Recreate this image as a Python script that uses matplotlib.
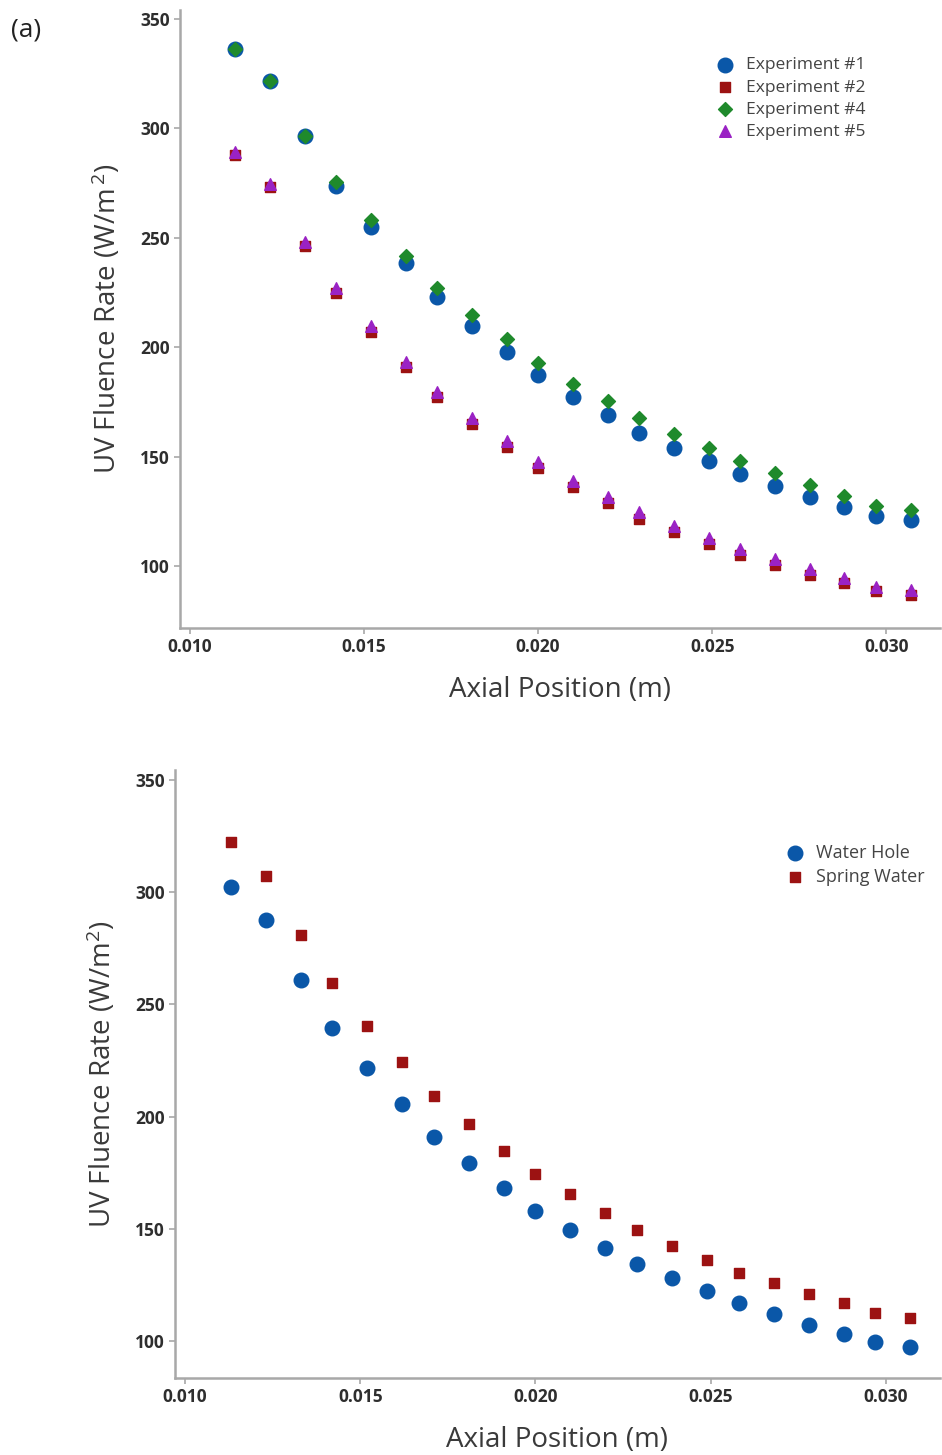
import matplotlib
matplotlib.use("Agg")
import matplotlib.pyplot as plt

plt.rcParams['font.family'] = ['Open Sans', 'DejaVu Sans']
plt.rcParams['mathtext.fontset'] = 'custom'
plt.rcParams['mathtext.rm'] = 'Open Sans'
plt.rcParams['mathtext.it'] = 'Open Sans'

# axial positions (m), shared by both panels
axialPos = [0.0113, 0.0123, 0.0133, 0.0142, 0.0152, 0.0162, 0.0171, 0.0181, 0.0191, 0.0200,
            0.0210, 0.0220, 0.0229, 0.0239, 0.0249, 0.0258, 0.0268, 0.0278, 0.0288, 0.0297, 0.0307]

# panel (a) fluence rates (W/m^2)
exp1 = [336.3, 321.7, 296.5, 273.7, 254.9, 238.5, 222.9, 209.7, 197.8, 187.3,
        177.2, 169.0, 160.8, 153.9, 148.0, 142.0, 136.6, 131.5, 127.0, 122.9, 121.0]
exp2 = [287.8, 273.2, 246.3, 224.8, 206.9, 190.9, 177.2, 164.9, 154.4, 144.8,
        136.1, 128.8, 121.5, 115.5, 110.0, 105.0, 100.5, 95.9, 92.2, 88.6, 86.8]
exp4 = [336.3, 321.7, 296.5, 275.5, 258.1, 241.7, 227.1, 214.7, 203.8, 192.8,
        183.2, 175.5, 167.7, 160.4, 154.0, 148.0, 142.6, 137.1, 132.1, 127.5, 125.6]
exp5 = [289.0, 274.5, 248.0, 227.0, 209.5, 193.0, 179.5, 167.5, 157.0, 147.5,
        139.0, 131.5, 124.5, 118.5, 113.0, 108.0, 103.0, 98.5, 94.5, 90.5, 89.0]

# lower panel fluence rates (W/m^2)
waterHole = [302.3, 287.6, 260.9, 239.5, 221.7, 205.7, 190.9, 179.4, 168.3, 158.0,
             149.6, 141.5, 134.4, 128.2, 122.4, 117.0, 112.1, 107.2, 103.2, 99.6, 97.4]
springWater = [322.4, 307.2, 281.0, 259.6, 240.4, 224.4, 209.2, 196.8, 184.7, 174.5,
               165.6, 157.1, 149.6, 142.4, 136.2, 130.4, 125.9, 121.0, 117.0, 112.6, 110.4]

xTicks = [0.010, 0.015, 0.020, 0.025, 0.030]
yTicks = [100, 150, 200, 250, 300, 350]

blue = '#0a57a8'
red = '#9c1212'
green = '#1f8a2c'
purple = '#9a22c4'
spineGrey = '#a8a8a8'
textGrey = '#3a3a3a'


def styleAxes(ax, ylim):
    ax.set_xlim(0.00971, 0.03155)
    ax.set_ylim(*ylim)
    for side in ['top', 'right']:
        ax.spines[side].set_visible(False)
    for side in ['left', 'bottom']:
        ax.spines[side].set_color(spineGrey)
        ax.spines[side].set_linewidth(1.8)
    ax.set_xticks(xTicks)
    ax.set_xticklabels([f'{t:.3f}' for t in xTicks])
    ax.set_yticks(yTicks)
    ax.tick_params(colors=spineGrey, labelcolor='#2e2e2e', length=4, width=1.2, labelsize=12.5)
    for lab in ax.get_xticklabels() + ax.get_yticklabels():
        lab.set_fontweight('bold')
    ax.set_xlabel('Axial Position (m)', fontsize=20, color=textGrey, labelpad=14)


fig = plt.figure(figsize=(9.42, 14.55), dpi=100)

# Top panel (a)
ax1 = fig.add_axes([0.191, 0.5684, 0.807, 0.4247])
ax1.scatter(axialPos, exp1, s=110, marker='o', color=blue, label='Experiment #1', zorder=3)
ax1.scatter(axialPos, exp2, s=55, marker='s', color=red, label='Experiment #2', zorder=3)
ax1.scatter(axialPos, exp4, s=50, marker='D', color=green, label='Experiment #4', zorder=3)
ax1.scatter(axialPos, exp5, s=70, marker='^', color=purple, label='Experiment #5', zorder=3)
styleAxes(ax1, (71.7, 354))
ax1.set_ylabel(r'UV Fluence Rate (W/m$^{\,2}$)', fontsize=20, color=textGrey, labelpad=12)
ax1.legend(loc='upper right', bbox_to_anchor=(0.911, 0.935), frameon=False, fontsize=12.5,
           labelcolor='#444444', handletextpad=0.2, labelspacing=0.35, borderaxespad=0)
fig.text(0.012, 0.975, '(a)', fontsize=19, color='#222222')

# Bottom panel
ax2 = fig.add_axes([0.1858, 0.0529, 0.812, 0.4179])
ax2.scatter(axialPos, waterHole, s=110, marker='o', color=blue, label='Water Hole', zorder=3)
ax2.scatter(axialPos, springWater, s=55, marker='s', color=red, label='Spring Water', zorder=3)
styleAxes(ax2, (83.5, 354.5))
ax2.set_ylabel(r'UV Fluence Rate (W/m$^{2}$)', fontsize=20, color=textGrey, labelpad=12)
ax2.legend(loc='upper right', bbox_to_anchor=(0.99, 0.89), frameon=False, fontsize=13,
           labelcolor='#444444', handletextpad=0.2, labelspacing=0.3, borderaxespad=0)

fig.savefig('out.png', dpi=100)
plt.close(fig)
